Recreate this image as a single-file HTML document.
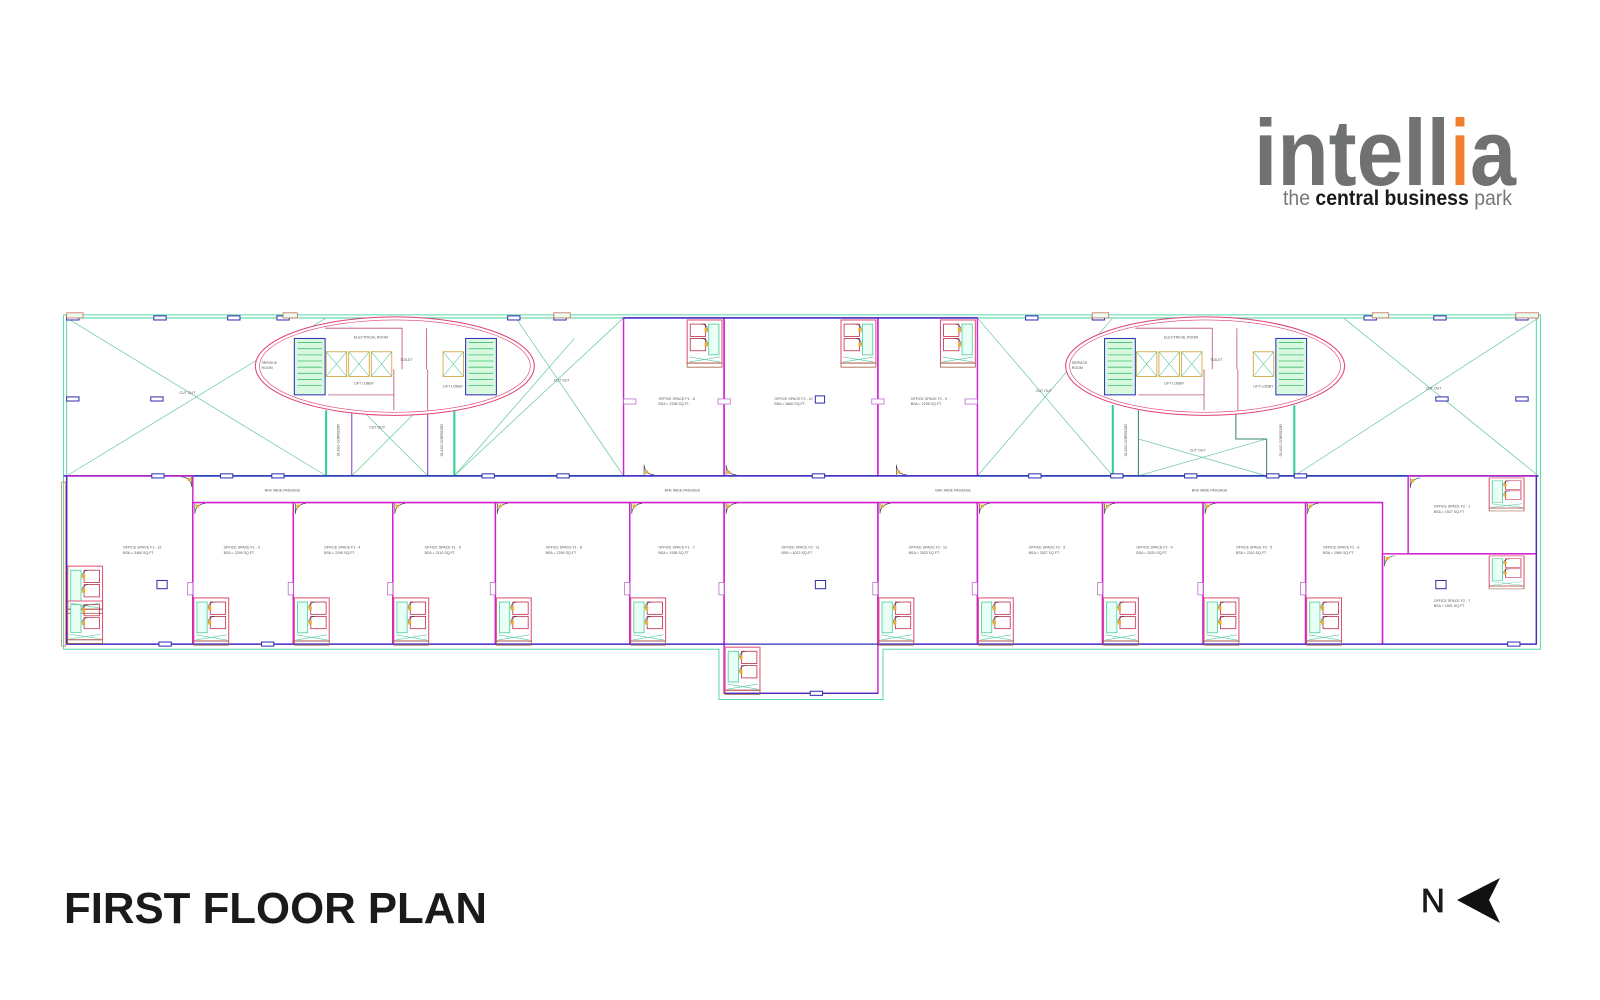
<!DOCTYPE html>
<html><head><meta charset="utf-8"><style>
html,body{margin:0;padding:0;background:#fff}
svg{display:block}
.t{font-family:"Liberation Sans",sans-serif;font-size:3.5px;fill:#555}
</style></head><body>
<svg width="1600" height="1000" viewBox="0 0 1600 1000" xmlns="http://www.w3.org/2000/svg">
<defs>
<g id="wc">
<rect x="0" y="0" width="34" height="42" fill="none" stroke="#e05070" stroke-width="1"/>
<rect x="3" y="4" width="10" height="30" fill="#e8fff6" stroke="#50c8a0" stroke-width="0.8"/>
<rect x="16" y="4" width="15" height="12" fill="none" stroke="#c03050" stroke-width="0.8"/>
<rect x="16" y="18" width="15" height="12" fill="none" stroke="#c03050" stroke-width="0.8"/>
<path d="M14 10 a6 6 0 0 1 6 -6 M14 24 a6 6 0 0 1 6 -6" fill="none" stroke="#333" stroke-width="0.6"/>
<rect x="14" y="8" width="3" height="4" fill="#e8b030"/>
<rect x="14" y="22" width="3" height="4" fill="#e8b030"/>
<path d="M2 36 L32 41 M2 41 L32 36" stroke="#50c8a0" stroke-width="0.6"/>
<rect x="0" y="42" width="34" height="4" fill="none" stroke="#a06040" stroke-width="0.8"/>
</g>
<g id="col"><rect x="0" y="0" width="12" height="4" fill="#fff" stroke="#3030b0" stroke-width="1"/></g>
<g id="colp"><rect x="0" y="0" width="12" height="5" fill="#fff" stroke="#c070d0" stroke-width="0.8"/></g>
<g id="door"><path d="M0 0 L0 10 M0 10 A10 10 0 0 1 10 0" fill="none" stroke="#333" stroke-width="0.6"/><rect x="1" y="1" width="3" height="3" fill="#e8b030"/></g>
</defs>

<!-- logo -->
<text x="1254" y="185" font-family="Liberation Sans,sans-serif" font-weight="bold" font-size="94" fill="#6f7173" textLength="196" lengthAdjust="spacingAndGlyphs">intell</text>
<text x="1451" y="185" font-family="Liberation Sans,sans-serif" font-weight="bold" font-size="94" fill="#f08030" textLength="18" lengthAdjust="spacingAndGlyphs">i</text>
<text x="1470" y="185" font-family="Liberation Sans,sans-serif" font-weight="bold" font-size="94" fill="#6f7173" textLength="46" lengthAdjust="spacingAndGlyphs">a</text>
<text x="1283" y="205" font-family="Liberation Sans,sans-serif" font-size="21" textLength="229" lengthAdjust="spacingAndGlyphs"><tspan fill="#777">the </tspan><tspan fill="#1a1a1a" font-weight="bold">central business </tspan><tspan fill="#777">park</tspan></text>

<!-- title -->
<text x="64" y="923" font-family="Liberation Sans,sans-serif" font-weight="bold" font-size="44" fill="#1a1a1a" textLength="423" lengthAdjust="spacingAndGlyphs">FIRST FLOOR PLAN</text>
<text x="1421" y="912" font-family="Liberation Sans,sans-serif" font-size="33" fill="#1a1a1a" stroke="#1a1a1a" stroke-width="0.8">N</text>
<path d="M1457 900 L1500 878 L1489 900 L1500 923 Z" fill="#111"/>

<g transform="scale(1.0256)">
<path d="M62 307 H1502 V633 H861 V682 H701 V633 H62 Z" fill="none" stroke="#5ad8a8" stroke-width="1"/>
<line x1="65" y1="310" x2="1500" y2="310" stroke="#5ad8a8" stroke-width="1.2"/>
<line x1="65" y1="310" x2="65" y2="464" stroke="#5ad8a8" stroke-width="1"/>
<line x1="1498" y1="310" x2="1498" y2="464" stroke="#5ad8a8" stroke-width="1"/>
<g stroke="#6ac8a0" stroke-width="0.7" fill="none">
<path d="M65 310 L318 464 M318 310 L65 464"/>
<path d="M443 464 L608 310 M503 310 L608 464" />
<path d="M443 464 L560 330 "/>
<path d="M953 310 L1085 464 M1085 310 L953 464"/>
<path d="M1262 464 L1500 310 M1310 310 L1500 464"/>
<path d="M343 390 L417 464 M417 390 L343 464"/>
<path d="M1110 428 L1235 464 M1235 428 L1110 464"/>
</g>
<g stroke="#30d090" stroke-width="2"><line x1="318" y1="400" x2="318" y2="464"/><line x1="443" y1="400" x2="443" y2="464"/><line x1="1085" y1="395" x2="1085" y2="464"/><line x1="1262" y1="395" x2="1262" y2="464"/></g>
<line x1="65" y1="464" x2="608" y2="464" stroke="#40d098" stroke-width="1.6"/>
<line x1="953" y1="464" x2="1500" y2="464" stroke="#40d098" stroke-width="1.6"/>
<rect x="343" y="390" width="74" height="74" fill="none" stroke="#8040c0" stroke-width="1"/>
<path d="M1110 400 V464 H1235 V428 H1205 V395" fill="none" stroke="#3a8a60" stroke-width="1"/>
<text class="t" x="360" y="418">CUT OUT</text><text class="t" x="1160" y="440">CUT OUT</text>
<text class="t" x="175" y="384">CUT OUT</text><text class="t" x="540" y="372">CUT OUT</text><text class="t" x="1010" y="382">CUT OUT</text><text class="t" x="1390" y="380">CUT OUT</text>
<text class="t" transform="translate(331,445) rotate(-90)">GLASS CORRIDOR</text>
<text class="t" transform="translate(432,445) rotate(-90)">GLASS CORRIDOR</text>
<text class="t" transform="translate(1099,445) rotate(-90)">GLASS CORRIDOR</text>
<text class="t" transform="translate(1250,445) rotate(-90)">GLASS CORRIDOR</text>

<g id="core1">
<ellipse cx="385" cy="357" rx="136" ry="48" fill="#fff" stroke="#e04070" stroke-width="1"/>
<ellipse cx="385" cy="357" rx="132" ry="45" fill="none" stroke="#e04070" stroke-width="0.6"/>
<rect x="287" y="330" width="30" height="55" fill="#d8f8e0" stroke="#3030b0" stroke-width="1"/>
<path d="M290 334 H314 M290 340 H314 M290 346 H314 M290 352 H314 M290 358 H314 M290 364 H314 M290 370 H314 M290 376 H314" stroke="#40c070" stroke-width="0.8"/>
<rect x="454" y="330" width="30" height="55" fill="#d8f8e0" stroke="#3030b0" stroke-width="1"/>
<path d="M457 334 H481 M457 340 H481 M457 346 H481 M457 352 H481 M457 358 H481 M457 364 H481 M457 370 H481 M457 376 H481" stroke="#40c070" stroke-width="0.8"/>
<g fill="#fff" stroke="#d0a030" stroke-width="0.8"><rect x="318" y="343" width="20" height="24"/><rect x="340" y="343" width="20" height="24"/><rect x="362" y="343" width="20" height="24"/><rect x="432" y="343" width="20" height="24"/></g>
<g stroke="#40c090" stroke-width="0.5"><path d="M318 343 L338 367 M338 343 L318 367 M340 343 L360 367 M360 343 L340 367 M362 343 L382 367 M382 343 L362 367 M432 343 L452 367 M452 343 L432 367"/></g>
<path d="M317 320 H392 V360 M384 360 V400 M417 360 V400 M416 320 V360 M320 385 H384" fill="none" stroke="#c05080" stroke-width="0.8"/>
<text class="t" x="345" y="330">ELECTRICAL ROOM</text><text class="t" x="345" y="375">LIFT LOBBY</text><text class="t" x="255" y="355">SERVICE</text><text class="t" x="255" y="360">ROOM</text><text class="t" x="390" y="352">TOILET</text><text class="t" x="432" y="378">LIFT LOBBY</text>
</g>
<use href="#core1" transform="translate(790,0)"/>

<g fill="none" stroke="#d020d0" stroke-width="1.4">
<rect x="608" y="310" width="98" height="154"/><rect x="706" y="310" width="150" height="154"/><rect x="856" y="310" width="97" height="154"/>
</g>
<line x1="608" y1="310" x2="953" y2="310" stroke="#3030c0" stroke-width="1.4"/>
<use href="#wc" transform="translate(704,312) scale(-1,1)"/>
<use href="#wc" transform="translate(854,312) scale(-1,1)"/>
<use href="#wc" transform="translate(951,312) scale(-1,1)"/>
<text class="t" x="642" y="390">OFFICE SPACE F1 - 8</text><text class="t" x="642" y="395">BSA = 2298 SQ.FT.</text>
<text class="t" x="755" y="390">OFFICE SPACE F2 - 10</text><text class="t" x="755" y="395">BSA = 3660 SQ.FT.</text>
<text class="t" x="888" y="390">OFFICE SPACE F2 - 9</text><text class="t" x="888" y="395">BSA = 2298 SQ.FT.</text>
<rect x="795" y="386" width="9" height="7" fill="none" stroke="#3030b0" stroke-width="1"/>

<line x1="62" y1="464" x2="1500" y2="464" stroke="#3030c0" stroke-width="1.4"/>
<line x1="188" y1="490" x2="1348" y2="490" stroke="#d020d0" stroke-width="1.4"/>
<text class="t" x="258" y="479">BHK WIDE PASSAGE</text><text class="t" x="648" y="479">BHK WIDE PASSAGE</text><text class="t" x="912" y="479">BHK WIDE PASSAGE</text><text class="t" x="1162" y="479">BHK WIDE PASSAGE</text>

<g fill="none" stroke="#d020d0" stroke-width="1.4">
<rect x="65" y="464" width="123" height="164"/>
<rect x="188" y="490" width="98" height="138"/><rect x="286" y="490" width="97" height="138"/><rect x="383" y="490" width="100" height="138"/>
<rect x="483" y="490" width="131" height="138"/><rect x="614" y="490" width="92" height="138"/>
<rect x="706" y="490" width="150" height="186"/>
<rect x="856" y="490" width="97" height="138"/><rect x="953" y="490" width="122" height="138"/><rect x="1075" y="490" width="98" height="138"/>
<rect x="1173" y="490" width="100" height="138"/><rect x="1273" y="490" width="75" height="138"/>
<rect x="1373" y="464" width="125" height="76"/><rect x="1348" y="540" width="150" height="88"/>
</g>
<line x1="65" y1="628" x2="1498" y2="628" stroke="#3030c0" stroke-width="1.2"/>
<line x1="706" y1="676" x2="856" y2="676" stroke="#3030c0" stroke-width="1.2"/>
<line x1="1498" y1="464" x2="1498" y2="628" stroke="#3030c0" stroke-width="1.2"/>
<line x1="65" y1="464" x2="65" y2="628" stroke="#3030c0" stroke-width="1.2"/>
<rect x="60" y="470" width="4" height="160" fill="none" stroke="#d08070" stroke-width="0.8"/>

<g>
<use href="#wc" transform="translate(189,583)"/><use href="#wc" transform="translate(287,583)"/><use href="#wc" transform="translate(384,583)"/>
<use href="#wc" transform="translate(484,583)"/><use href="#wc" transform="translate(615,583)"/><use href="#wc" transform="translate(707,631)"/>
<use href="#wc" transform="translate(857,583)"/><use href="#wc" transform="translate(954,583)"/><use href="#wc" transform="translate(1076,583)"/>
<use href="#wc" transform="translate(1174,583)"/><use href="#wc" transform="translate(1274,583)"/>
<use href="#wc" transform="translate(66,552)"/><use href="#wc" transform="translate(66,586) scale(1,0.9)"/>
<use href="#wc" transform="translate(1452,466) scale(1,0.7)"/><use href="#wc" transform="translate(1452,542) scale(1,0.7)"/>
</g>
<g>
<use href="#door" x="190" y="491"/><use href="#door" x="288" y="491"/><use href="#door" x="385" y="491"/><use href="#door" x="485" y="491"/><use href="#door" x="616" y="491"/><use href="#door" x="708" y="491"/><use href="#door" x="858" y="491"/><use href="#door" x="955" y="491"/><use href="#door" x="1077" y="491"/><use href="#door" x="1175" y="491"/><use href="#door" x="1275" y="491"/><use href="#door" x="1375" y="466"/><use href="#door" x="1350" y="542"/>
<use href="#door" transform="translate(628,463) scale(1,-1)"/><use href="#door" transform="translate(708,463) scale(1,-1)"/><use href="#door" transform="translate(874,463) scale(1,-1)"/><use href="#door" transform="translate(187,465) scale(-1,1)"/>
</g>
<g>
<text class="t" x="120" y="535">OFFICE SPACE F1 - 12</text><text class="t" x="120" y="540">BSA = 3460 SQ.FT.</text>
<text class="t" x="218" y="535">OFFICE SPACE F1 - 3</text><text class="t" x="218" y="540">BSA = 2295 SQ.FT.</text>
<text class="t" x="316" y="535">OFFICE SPACE F1 - 4</text><text class="t" x="316" y="540">BSA = 2295 SQ.FT.</text>
<text class="t" x="414" y="535">OFFICE SPACE F1 - 5</text><text class="t" x="414" y="540">BSA = 2110 SQ.FT.</text>
<text class="t" x="532" y="535">OFFICE SPACE F1 - 6</text><text class="t" x="532" y="540">BSA = 2294 SQ.FT.</text>
<text class="t" x="642" y="535">OFFICE SPACE F1 - 7</text><text class="t" x="642" y="540">BSA = 1926 SQ.FT.</text>
<text class="t" x="762" y="535">OFFICE SPACE F2 - 11</text><text class="t" x="762" y="540">BSA = 4022 SQ.FT.</text>
<text class="t" x="886" y="535">OFFICE SPACE F2 - 12</text><text class="t" x="886" y="540">BSA = 2523 SQ.FT.</text>
<text class="t" x="1003" y="535">OFFICE SPACE F2 - 3</text><text class="t" x="1003" y="540">BSA = 2527 SQ.FT.</text>
<text class="t" x="1108" y="535">OFFICE SPACE F2 - 4</text><text class="t" x="1108" y="540">BSA = 2520 SQ.FT.</text>
<text class="t" x="1205" y="535">OFFICE SPACE F2 - 5</text><text class="t" x="1205" y="540">BSA = 2110 SQ.FT.</text>
<text class="t" x="1290" y="535">OFFICE SPACE F2 - 6</text><text class="t" x="1290" y="540">BSA = 1960 SQ.FT.</text>
<text class="t" x="1398" y="495">OFFICE SPACE F2 - 1</text><text class="t" x="1398" y="500">BSA = 1927 SQ.FT.</text>
<text class="t" x="1398" y="587">OFFICE SPACE F2 - 7</text><text class="t" x="1398" y="592">BSA = 1901 SQ.FT.</text>
</g>
<g fill="none" stroke="#3030b0" stroke-width="1"><rect x="153" y="566" width="10" height="8"/><rect x="795" y="566" width="10" height="8"/><rect x="1400" y="566" width="10" height="8"/></g>

<g>
<use href="#col" x="65" y="308"/><use href="#col" x="150" y="308"/><use href="#col" x="222" y="308"/><use href="#col" x="270" y="308"/><use href="#col" x="495" y="308"/><use href="#col" x="540" y="308"/>
<use href="#col" x="1000" y="308"/><use href="#col" x="1065" y="308"/><use href="#col" x="1330" y="308"/><use href="#col" x="1398" y="308"/><use href="#col" x="1478" y="308"/>
<use href="#col" x="65" y="387"/><use href="#col" x="147" y="387"/><use href="#col" x="1400" y="387"/><use href="#col" x="1478" y="387"/>
<use href="#col" x="148" y="462"/><use href="#col" x="215" y="462"/><use href="#col" x="265" y="462"/><use href="#col" x="470" y="462"/><use href="#col" x="543" y="462"/><use href="#col" x="792" y="462"/><use href="#col" x="1003" y="462"/><use href="#col" x="1083" y="462"/><use href="#col" x="1155" y="462"/><use href="#col" x="1235" y="462"/><use href="#col" x="1262" y="462"/>
<use href="#col" x="155" y="626"/><use href="#col" x="255" y="626"/><use href="#col" x="790" y="674"/><use href="#col" x="1470" y="626"/>
</g>
<g>
<use href="#colp" transform="translate(188,568) rotate(90)"/><use href="#colp" transform="translate(286,568) rotate(90)"/><use href="#colp" transform="translate(383,568) rotate(90)"/><use href="#colp" transform="translate(483,568) rotate(90)"/><use href="#colp" transform="translate(614,568) rotate(90)"/><use href="#colp" transform="translate(706,568) rotate(90)"/><use href="#colp" transform="translate(856,568) rotate(90)"/><use href="#colp" transform="translate(953,568) rotate(90)"/><use href="#colp" transform="translate(1075,568) rotate(90)"/><use href="#colp" transform="translate(1173,568) rotate(90)"/><use href="#colp" transform="translate(1273,568) rotate(90)"/>
<use href="#colp" transform="translate(608,389)"/><use href="#colp" transform="translate(700,389)"/><use href="#colp" transform="translate(850,389)"/><use href="#colp" transform="translate(941,389)"/>
</g>
<g fill="#e8fff0" stroke="#d07060" stroke-width="0.8"><rect x="65" y="305" width="16" height="5"/><rect x="276" y="305" width="14" height="5"/><rect x="540" y="305" width="16" height="5"/><rect x="1065" y="305" width="16" height="5"/><rect x="1338" y="305" width="16" height="5"/><rect x="1478" y="305" width="22" height="5"/></g>
</g>
</svg>
</body></html>
